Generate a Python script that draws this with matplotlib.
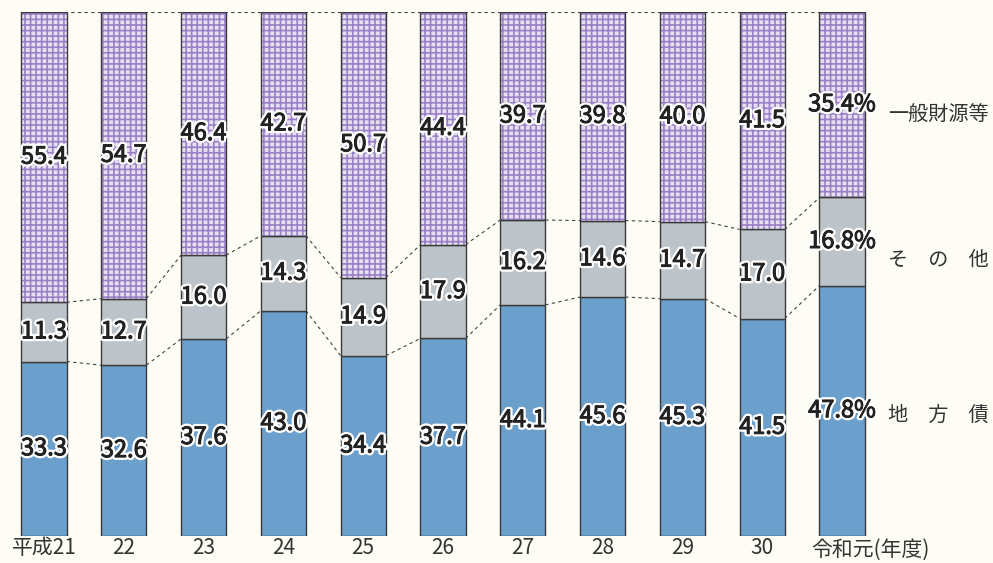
import matplotlib
matplotlib.use("Agg")
import matplotlib.pyplot as plt
import matplotlib.patheffects as pe
import numpy as np

plt.rcParams['font.family'] = ['Noto Sans CJK JP', 'DejaVu Sans']
plt.rcParams['hatch.linewidth'] = 1.2

years = ['平成21', '22', '23', '24', '25', '26', '27', '28', '29', '30', '令和元(年度)']
chihousai = [33.3, 32.6, 37.6, 43.0, 34.4, 37.7, 44.1, 45.6, 45.3, 41.5, 47.8]
sonota = [11.3, 12.7, 16.0, 14.3, 14.9, 17.9, 16.2, 14.6, 14.7, 17.0, 16.8]
ippan = [55.4, 54.7, 46.4, 42.7, 50.7, 44.4, 39.7, 39.8, 40.0, 41.5, 35.4]
series_names = ['地　方　債', 'そ　の　他', '一般財源等']

bg = '#fdfdf5'
c_blue = '#6b9fcc'
c_gray = '#bcc4c9'
c_purple = '#e6dff0'
c_hatch = '#9a80c6'
edge = '#3a3a3a'
txt = '#222222'

fig = plt.figure(figsize=(9.93, 5.63), dpi=100, facecolor=bg)
ax = fig.add_axes([0, 27/563, 1, 524/563])
ax.set_facecolor(bg)

x = np.arange(len(years))
w = 0.564
a = np.array(chihousai)
s = np.array(sonota)
g = np.array(ippan)

ax.bar(x, a, w, color=c_blue, edgecolor=edge, linewidth=1.0, zorder=3)
ax.bar(x, s, w, bottom=a, color=c_gray, edgecolor=edge, linewidth=1.0, zorder=3)
# hatched fill first (hatch takes edge colour), then dark outline on top
ax.bar(x, g, w, bottom=a + s, color=c_purple, edgecolor=c_hatch, linewidth=0,
       hatch='+++', zorder=3)
ax.bar(x, g, w, bottom=a + s, fill=False, edgecolor=edge, linewidth=1.0, zorder=4)

# dashed connectors
dash = dict(color='#444444', linestyle=(0, (3, 3)), linewidth=0.8, zorder=2)
for i in range(len(x) - 1):
    for lev in (a, a + s):
        ax.plot([x[i] + w / 2, x[i + 1] - w / 2], [lev[i], lev[i + 1]], **dash)
ax.plot([x[0], x[-1]], [100, 100], **dash)

# white halo, then a thin dark stroke to thicken the glyphs a bit
stroke = [pe.withStroke(linewidth=4, foreground='white'),
          pe.withStroke(linewidth=0.7, foreground=txt)]
for i in range(len(x)):
    suf = '%' if i == len(x) - 1 else ''
    for bot, val in ((0, a[i]), (a[i], s[i]), (a[i] + s[i], g[i])):
        ax.text(x[i], bot + val / 2, f'{val:.1f}{suf}', ha='center', va='center',
                fontsize=17, color=txt, path_effects=stroke, zorder=5)

# series labels on the right
lab_y = [23.1, 52.7, 80.3]
for name, yy in zip(series_names, lab_y):
    ax.text(10.58, yy, name, ha='left', va='center', fontsize=14.5, color='#333333')

ax.set_xlim(-44 / 79.8, (993 - 44) / 79.8)
ax.set_ylim(0, 100)
ax.set_xticks(x[:-1])
ax.set_xticklabels(years[:-1], fontsize=15, color='#333333')
ax.tick_params(axis='x', length=0, pad=1)
ax.text(x[-1] - 0.39, -0.5, years[-1], ha='left', va='top', fontsize=15,
        color='#333333')
ax.set_yticks([])
for sp in ax.spines.values():
    sp.set_visible(False)

fig.savefig('out.png', dpi=100, facecolor=bg)
